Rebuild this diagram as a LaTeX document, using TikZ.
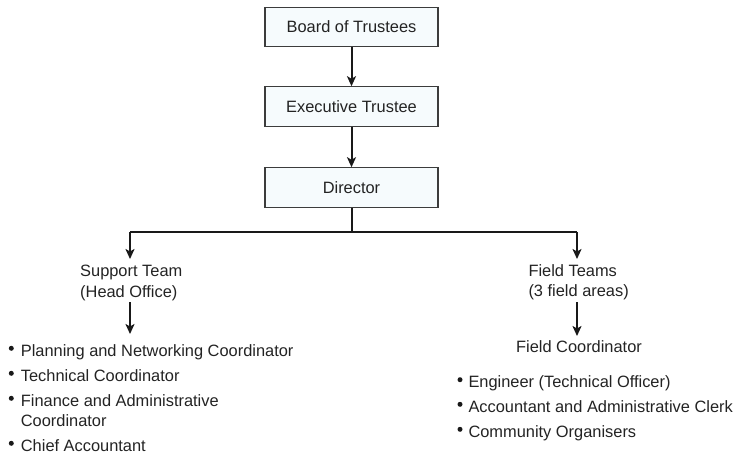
\documentclass[tikz,border=0pt]{standalone}
\usepackage{fontspec}
\setmainfont{Liberation Sans}
\usetikzlibrary{arrows.meta}
\definecolor{boxfill}{RGB}{246,251,253}
\definecolor{boxline}{RGB}{60,60,60}
\definecolor{txt}{RGB}{35,35,35}
\begin{document}
\begin{tikzpicture}[x=1pt,y=-1pt,
  every node/.style={font=\fontsize{16.4}{20}\selectfont, text=txt, inner sep=0pt},
  orgbox/.style={draw=boxline, line width=1.1pt, fill=boxfill, minimum width=173pt, minimum height=39.5pt},
  conn/.style={line width=2pt, draw=black!90},
  arr/.style={conn, -{Stealth[length=10pt,width=9pt,inset=2.5pt]}},
  lbl/.style={anchor=base west},
  dot/.style={fill=black!90, draw=none, circle, minimum size=5pt}
]
\useasboundingbox (0,0) rectangle (741,459);

\node[orgbox] (board) at (351.5,27) {Board of Trustees};
\node[orgbox] (exec) at (351.5,106.5) {Executive Trustee};
\node[orgbox] (dir) at (351.5,187.5) {Director};

\draw[arr] (board.south) -- (exec.north);
\draw[arr] (exec.south) -- (dir.north);

\coordinate (jn) at (351.5,232);
\coordinate (jl) at (130,232);
\coordinate (jr) at (577,232);
\coordinate (sup) at (130,259);
\coordinate (fld) at (577,259);
\draw[conn] (dir.south) -- (jn);
\draw[conn, line join=miter] (jl) -- (jr);
\draw[arr] (jl) -- (sup);
\draw[arr] (jr) -- (fld);

% left branch
\node[lbl] (st1) at (80,276.7) {Support Team};
\node[lbl] (st2) at (80,297.3) {(Head Office)};
\coordinate (la1) at (130,302);
\coordinate (la2) at (130,334);
\draw[arr] (la1) -- (la2);

\node[lbl] (l1) at (20.7,356) {Planning and Networking Coordinator};
\node[lbl] (l2) at (20.7,381) {Technical Coordinator};
\node[lbl] (l3) at (20.7,406) {Finance and Administrative};
\node[lbl] (l3b) at (20.7,426) {Coordinator};
\node[lbl] (l4) at (20.7,451) {Chief Accountant};
\node[dot] (b1) at (11.3,348.3) {};
\node[dot] (b2) at (11.3,373.3) {};
\node[dot] (b3) at (11.3,398.3) {};
\node[dot] (b4) at (11.3,443.3) {};

% right branch
\node[lbl] (ft1) at (528.3,276) {Field Teams};
\node[lbl] (ft2) at (528.3,296.7) {(3 field areas)};
\coordinate (ra1) at (577,302);
\coordinate (ra2) at (577,336);
\draw[arr] (ra1) -- (ra2);

\node[anchor=base] (fc) at (579,352.7) {Field Coordinator};

\node[lbl] (r1) at (468.3,387.7) {Engineer (Technical Officer)};
\node[lbl] (r2) at (468.3,412.3) {Accountant and Administrative Clerk};
\node[lbl] (r3) at (468.3,437.3) {Community Organisers};
\node[dot] (c1) at (460,379.7) {};
\node[dot] (c2) at (460,404.3) {};
\node[dot] (c3) at (460,429.3) {};
\end{tikzpicture}
\end{document}
